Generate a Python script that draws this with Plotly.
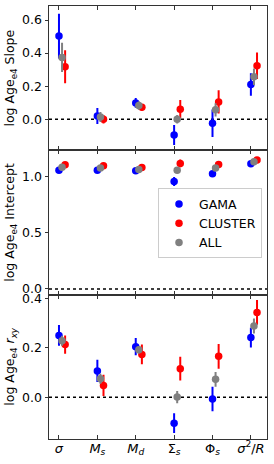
import plotly.graph_objects as go
from plotly.subplots import make_subplots

categories = ["<i>σ</i>", "<i>M</i><sub><i>s</i></sub>", "<i>M</i><sub><i>d</i></sub>",
              "Σ<sub><i>s</i></sub>", "Φ<sub><i>s</i></sub>", "<i>σ</i><sup>2</sup>/<i>R</i>"]

# Slope
gama_slope = [0.503, 0.020, 0.099, -0.095, -0.024, 0.210]
gama_slope_err = [0.135, 0.048, 0.030, 0.060, 0.083, 0.068]
cluster_slope = [0.317, 0.000, 0.073, 0.061, 0.105, 0.323]
cluster_slope_err = [0.100, 0.025, 0.020, 0.055, 0.070, 0.080]
all_slope = [0.374, 0.014, 0.083, 0.000, 0.057, 0.257]
all_slope_err = [0.088, 0.030, 0.025, 0.025, 0.040, 0.050]

# Intercept
gama_int = [1.060, 1.060, 1.054, 0.958, 1.027, 1.117]
gama_int_err = [0.012, 0.012, 0.012, 0.040, 0.020, 0.012]
cluster_int = [1.108, 1.100, 1.084, 1.120, 1.110, 1.150]
cluster_int_err = [0.015, 0.015, 0.015, 0.035, 0.015, 0.012]
all_int = [1.085, 1.080, 1.066, 1.060, 1.080, 1.135]
all_int_err = [0.010, 0.010, 0.010, 0.020, 0.012, 0.010]

# r_xy
gama_r = [0.251, 0.107, 0.205, -0.105, -0.007, 0.242]
gama_r_err = [0.042, 0.045, 0.035, 0.040, 0.050, 0.040]
cluster_r = [0.214, 0.048, 0.174, 0.116, 0.166, 0.344]
cluster_r_err = [0.037, 0.043, 0.040, 0.048, 0.050, 0.050]
all_r = [0.229, 0.075, 0.193, 0.001, 0.073, 0.289]
all_r_err = [0.020, 0.020, 0.015, 0.025, 0.030, 0.030]

series_names = ["GAMA", "CLUSTER", "ALL"]
colors = ["#0000ff", "#ff0000", "#808080"]
offsets = [0.0, 0.16, 0.08]

panels = [
    ([gama_slope, cluster_slope, all_slope], [gama_slope_err, cluster_slope_err, all_slope_err]),
    ([gama_int, cluster_int, all_int], [gama_int_err, cluster_int_err, all_int_err]),
    ([gama_r, cluster_r, all_r], [gama_r_err, cluster_r_err, all_r_err]),
]
ytitles = ["log Age<sub>e4</sub> Slope", "log Age<sub>e4</sub> Intercept",
           "log Age<sub>e4</sub> <i>r</i><sub><i>xy</i></sub>"]
yranges = [[-0.188, 0.685], [-0.051, 1.237], [-0.169, 0.416]]
ytickvals = [[0.0, 0.2, 0.4, 0.6], [0.0, 0.5, 1.0], [0.0, 0.2, 0.4]]

FONT = "DejaVu Sans"
fig = make_subplots(rows=3, cols=1, shared_xaxes=True, vertical_spacing=0.0)

xs = list(range(len(categories)))
for r, (vals, errs) in enumerate(panels, start=1):
    for k in range(3):
        fig.add_trace(go.Scatter(
            x=[x + offsets[k] for x in xs], y=vals[k], mode="markers",
            name=series_names[k], legendgroup=series_names[k], showlegend=(r == 2),
            marker=dict(color=colors[k], size=7.5, line=dict(width=0)),
            error_y=dict(type="data", array=errs[k], visible=True, color=colors[k],
                         thickness=2, width=0),
        ), row=r, col=1)
    fig.add_shape(type="line", xref="x domain" if r == 1 else f"x{r} domain",
                  yref="y" if r == 1 else f"y{r}", x0=0, x1=1, y0=0, y1=0,
                  line=dict(color="black", width=1.5, dash="dot"), layer="below")

axis_line = "#333333"
for r in range(1, 4):
    fig.update_xaxes(range=[-0.26, 5.42], tickvals=xs, ticktext=categories,
                     ticks="inside", ticklen=4, tickcolor=axis_line, mirror="ticks",
                     showline=True, linecolor=axis_line, linewidth=1,
                     showgrid=False, zeroline=False, showticklabels=(r == 3),
                     tickfont=dict(family=FONT, size=13, color="black"),
                     ticklabelstandoff=-3, automargin=False,
                     row=r, col=1)
    fig.update_yaxes(range=yranges[r - 1], tickvals=ytickvals[r - 1], tickformat=".1f",
                     ticks="outside", ticklen=3.5, tickcolor=axis_line, mirror=True,
                     showline=True, linecolor=axis_line, linewidth=1,
                     showgrid=False, zeroline=False, automargin=False,
                     tickfont=dict(family=FONT, size=12.5, color="black"),
                     title=dict(text=ytitles[r - 1], standoff=4,
                                font=dict(family=FONT, size=12.5, color="black")),
                     row=r, col=1)

# inward ticks on the right side
for r in range(1, 4):
    fig.layout[f"yaxis{r + 3}"] = dict(
        overlaying="y" if r == 1 else f"y{r}", side="right",
        range=yranges[r - 1], tickvals=ytickvals[r - 1], ticks="inside", ticklen=3.5,
        tickcolor=axis_line, showticklabels=False, showgrid=False, zeroline=False,
        showline=False, automargin=False)

fig.update_layout(
    width=274, height=464,
    margin=dict(l=49, r=7, t=6, b=25, autoexpand=False),
    plot_bgcolor="white", paper_bgcolor="white",
    font=dict(family=FONT, size=12.5, color="black"),
    legend=dict(x=0.5, xanchor="left", y=0.579, yanchor="top",
                bordercolor="#cccccc", borderwidth=1, bgcolor="white",
                font=dict(family=FONT, size=12.5), tracegroupgap=0),
    showlegend=True,
)

fig.write_html("out.html", config={"displayModeBar": False},
               post_script="document.body.style.margin='0';document.body.style.overflow='hidden';")
